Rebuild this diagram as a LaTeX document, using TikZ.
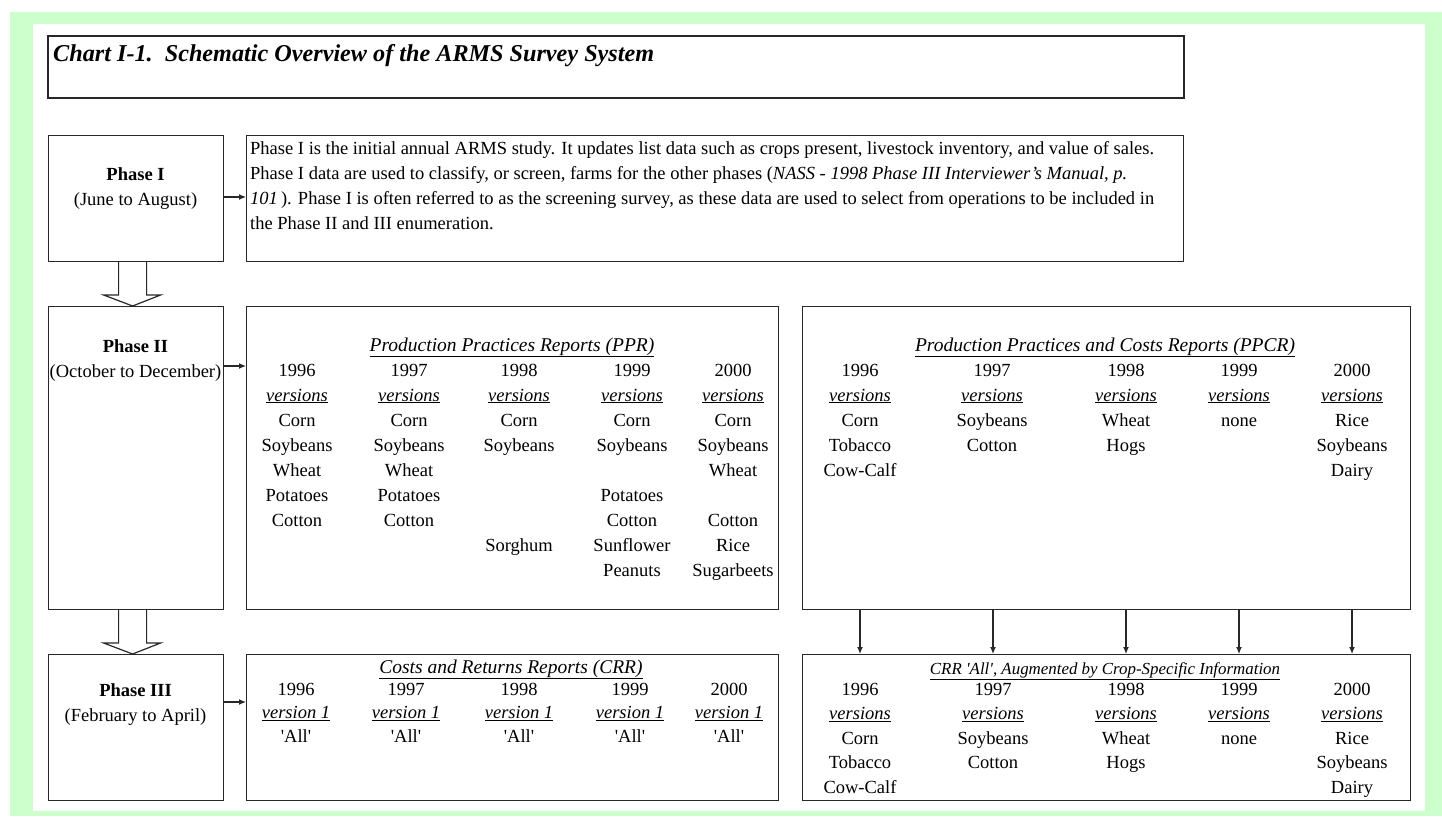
\documentclass[tikz,border=0pt]{standalone}
\usepackage{fontspec}
\setmainfont{Liberation Serif}
\usetikzlibrary{arrows.meta,calc}
\definecolor{framegreen}{RGB}{204,255,204}
\definecolor{boxline}{RGB}{40,40,40}
\newcommand{\versline}{\underline{\textit{versions}}}
\newcommand{\versone}{\underline{\textit{version 1}}}
\newcommand{\allq}{\textquotesingle All\textquotesingle}
\newcommand{\colstack}[1]{\begin{tabular}[t]{@{}c@{}}#1\end{tabular}}
\newcommand{\leftstack}[1]{\begin{tabular}[t]{@{}l@{}}#1\end{tabular}}

\begin{document}
\begin{tikzpicture}[x=1pt, y=-1pt,
    box/.style = {draw=boxline, line width=1.2pt, inner sep=0pt, anchor=north west},
    txt/.style = {inner sep=0pt, anchor=base, font=\fontsize{18.5}{25}\selectfont},
    colc/.style = {txt, font=\fontsize{18.5}{23.5}\selectfont},
    cola/.style = {txt, font=\fontsize{18.5}{24.5}\selectfont},
    hdr/.style = {txt, font=\fontsize{19.5}{25}\selectfont},
    link/.style = {draw=boxline, line width=1.2pt, -{Latex[length=7pt,width=6pt]}},
    hollow/.style = {draw=boxline, line width=1.2pt, fill=white, line join=miter}]

  % frame
  \fill[framegreen] (10,12) rectangle (1442,816);
  \fill[white] (33,24) rectangle (1425,811);
  \useasboundingbox (0,0) rectangle (1442,816);

  % boxes
  \node[box, line width=2pt, minimum width=1136, minimum height=62] (title) at (47,35) {};
  \node[box, minimum width=175, minimum height=126] (ph1) at (48,135) {};
  \node[box, minimum width=937, minimum height=126] (desc) at (246,135) {};
  \node[box, minimum width=175, minimum height=303] (ph2) at (48,306) {};
  \node[box, minimum width=532, minimum height=303] (ppr) at (246,306) {};
  \node[box, minimum width=608, minimum height=303] (ppcr) at (802,306) {};
  \node[box, minimum width=175, minimum height=146] (ph3) at (48,654) {};
  \node[box, minimum width=532, minimum height=146] (crr) at (246,654) {};
  \node[box, minimum width=608, minimum height=146] (crra) at (802,654) {};

  % title
  \node[inner sep=0pt, anchor=base west, font=\fontsize{24.2}{28}\selectfont\bfseries\itshape]
    (ttl) at (53,61.5) {Chart I-1.\ \ Schematic Overview of the ARMS Survey System};

  % phase labels
  \node[txt] (ph1lbl) at (135.5,180) {\colstack{\textbf{Phase I}\\(June to August)}};
  \node[txt] (ph2lbl) at (135.5,352) {\colstack{\textbf{Phase II}\\(October to December)}};
  \node[txt] (ph3lbl) at (135.5,696) {\colstack{\textbf{Phase III}\\(February to April)}};

  % phase I text
  \node[txt, anchor=base west] (desctxt) at (250,154) {\leftstack{%
    Phase I is the initial annual ARMS study. It updates list data such as crops present, livestock inventory, and value of sales.\\
    Phase I data are used to classify, or screen, farms for the other phases (\textit{NASS - 1998 Phase III Interviewer's Manual, p.}\\
    \textit{101}\,). Phase I is often referred to as the screening survey, as these data are used to select from operations to be included in\\
    the Phase II and III enumeration.}};

  % PPR
  \node[hdr] (pprh) at (512,351) {\underline{\textit{Production Practices Reports (PPR)}}};
  \node[txt] (r96) at (297,376) {\colstack{1996\\\versline\\Corn\\Soybeans\\Wheat\\Potatoes\\Cotton}};
  \node[txt] (r97) at (409,376) {\colstack{1997\\\versline\\Corn\\Soybeans\\Wheat\\Potatoes\\Cotton}};
  \node[txt] (r98) at (519,376) {\colstack{1998\\\versline\\Corn\\Soybeans\\\\\\\\Sorghum}};
  \node[txt] (r99) at (632,376) {\colstack{1999\\\versline\\Corn\\Soybeans\\\\Potatoes\\Cotton\\Sunflower\\Peanuts}};
  \node[txt] (r00) at (733,376) {\colstack{2000\\\versline\\Corn\\Soybeans\\Wheat\\\\Cotton\\Rice\\Sugarbeets}};

  % PPCR
  \node[hdr] (ppcrh) at (1105,351) {\underline{\textit{Production Practices and Costs Reports (PPCR)}}};
  \node[txt] (c96) at (860,376) {\colstack{1996\\\versline\\Corn\\Tobacco\\Cow-Calf}};
  \node[txt] (c97) at (992,376) {\colstack{1997\\\versline\\Soybeans\\Cotton}};
  \node[txt] (c98) at (1126,376) {\colstack{1998\\\versline\\Wheat\\Hogs}};
  \node[txt] (c99) at (1239,376) {\colstack{1999\\\versline\\none}};
  \node[txt] (c00) at (1352,376) {\colstack{2000\\\versline\\Rice\\Soybeans\\Dairy}};

  % CRR
  \node[hdr] (crrh) at (511,673) {\underline{\textit{Costs and Returns Reports (CRR)}}};
  \node[colc] (k96) at (296,695) {\colstack{1996\\\versone\\\allq}};
  \node[colc] (k97) at (406,695) {\colstack{1997\\\versone\\\allq}};
  \node[colc] (k98) at (519,695) {\colstack{1998\\\versone\\\allq}};
  \node[colc] (k99) at (630,695) {\colstack{1999\\\versone\\\allq}};
  \node[colc] (k00) at (729,695) {\colstack{2000\\\versone\\\allq}};

  % CRR augmented
  \node[txt, font=\fontsize{16.9}{20}\selectfont] (crrah) at (1105,674)
    {\underline{\textit{CRR \textquotesingle All\textquotesingle, Augmented by Crop-Specific Information}}};
  \node[cola] (a96) at (860,695) {\colstack{1996\\\versline\\Corn\\Tobacco\\Cow-Calf}};
  \node[cola] (a97) at (993,695) {\colstack{1997\\\versline\\Soybeans\\Cotton}};
  \node[cola] (a98) at (1126,695) {\colstack{1998\\\versline\\Wheat\\Hogs}};
  \node[cola] (a99) at (1239,695) {\colstack{1999\\\versline\\none}};
  \node[cola] (a00) at (1352,695) {\colstack{2000\\\versline\\Rice\\Soybeans\\Dairy}};

  % arrows to the reports
  \coordinate (lv1) at (0,197);
  \coordinate (lv2) at (0,366);
  \coordinate (lv3) at (0,702);
  \draw[link] (ph1.east |- lv1) -- (desc.west |- lv1);
  \draw[link] (ph2.east |- lv2) -- (ppr.west |- lv2);
  \draw[link] (ph3.east |- lv3) -- (crr.west |- lv3);
  \foreach \y in {96,97,98,99,00}
    \draw[link] (ppcr.south -| a\y) -- (crra.north -| a\y);

  % hollow arrows between phases
  \draw[hollow] ($(ph1.south)+(-17.5,0)$) -- ($(ph2.north)+(-17.5,-11)$) -- ($(ph2.north)+(-32.5,-11)$)
    -- ($(ph2.north)+(-3.5,0)$) -- ($(ph2.north)+(24.5,-11)$) -- ($(ph2.north)+(10.5,-11)$) -- ($(ph1.south)+(10.5,0)$);
  \draw[hollow] ($(ph2.south)+(-17.5,0)$) -- ($(ph3.north)+(-17.5,-11)$) -- ($(ph3.north)+(-32.5,-11)$)
    -- ($(ph3.north)+(-3.5,0)$) -- ($(ph3.north)+(24.5,-11)$) -- ($(ph3.north)+(10.5,-11)$) -- ($(ph2.south)+(10.5,0)$);
\end{tikzpicture}
\end{document}
